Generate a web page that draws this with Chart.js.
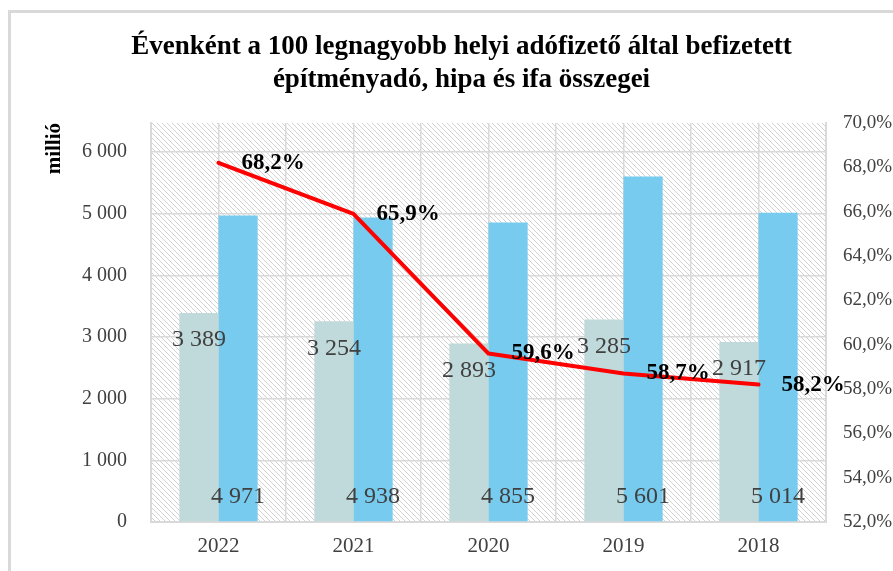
<!DOCTYPE html>
<html>
<head>
<meta charset="utf-8">
<script src="https://cdn.jsdelivr.net/npm/chart.js@4"></script>
<style>
  html, body { margin: 0; padding: 0; background: #fff; }
  .frame { position: absolute; left: 8px; top: 10px; width: 1000px; height: 1000px; border: 3px solid #d9d9d9; }
  .wrap { position: absolute; left: 0; top: 0; width: 893px; height: 571px; }
</style>
</head>
<body>
<div class="frame"></div>
<div class="wrap"><canvas id="chart" width="893" height="571"></canvas></div>
<script>
// adatok
const YEARS = ['2022', '2021', '2020', '2019', '2018'];
const EPITMENYADO = [3389, 3254, 2893, 3285, 2917];
const OSSZES = [4971, 4938, 4855, 5601, 5014];
const ARANY = [68.2, 65.9, 59.6, 58.7, 58.2];
const LEFT_TICKS = [0, 1000, 2000, 3000, 4000, 5000, 6000];

const SERIF = '"Liberation Serif", "DejaVu Serif", serif';
const TICK_COLOR = '#404040';
const GRID_COLOR = '#d9d9d9';

const fmtThousand = v => String(v).replace(/\B(?=(\d{3})+(?!\d))/g, ' ');
const fmtPct = v => v.toFixed(1).replace('.', ',') + '%';

// sraffozott háttér (átlós vonalak a rajzterületen)
const hatchBg = {
  id: 'hatchBg',
  beforeDraw(chart) {
    const { ctx, chartArea: a } = chart;
    const w = a.right - a.left, h = a.bottom - a.top;
    ctx.save();
    ctx.beginPath();
    ctx.rect(a.left, a.top, w, h);
    ctx.clip();
    ctx.fillStyle = '#fff';
    ctx.fillRect(a.left, a.top, w, h);
    ctx.strokeStyle = '#d2d2d2';
    ctx.lineWidth = 1;
    ctx.beginPath();
    for (let k = -h; k < w; k += 5) {
      ctx.moveTo(a.left + k, a.top);
      ctx.lineTo(a.left + k + h, a.bottom);
    }
    ctx.stroke();
    ctx.restore();
  }
};

const valueLabels = {
  id: 'valueLabels',
  afterDatasetsDraw(chart) {
    const { ctx } = chart;
    ctx.save();
    ctx.textBaseline = 'middle';
    // oszlopok
    ctx.font = '24px ' + SERIF;
    ctx.fillStyle = TICK_COLOR;
    ctx.textAlign = 'center';
    chart.getDatasetMeta(1).data.forEach((bar, i) => {
      ctx.fillText(fmtThousand(EPITMENYADO[i]), bar.x, bar.y + 27);
    });
    chart.getDatasetMeta(2).data.forEach((bar, i) => {
      ctx.fillText(fmtThousand(OSSZES[i]), bar.x, bar.base - 25);
    });
    // vonal
    ctx.font = 'bold 23px ' + SERIF;
    ctx.fillStyle = '#000';
    ctx.textAlign = 'left';
    chart.getDatasetMeta(0).data.forEach((pt, i) => {
      ctx.fillText(fmtPct(ARANY[i]), pt.x + 23, pt.y);
    });
    ctx.restore();
  }
};

new Chart(document.getElementById('chart'), {
  data: {
    labels: YEARS,
    datasets: [
      {
        type: 'line', label: 'arány', data: ARANY, yAxisID: 'y1', order: 0,
        borderColor: '#ff0000', borderWidth: 4, pointRadius: 0, tension: 0,
        borderCapStyle: 'round', borderJoinStyle: 'round'
      },
      {
        type: 'bar', label: 'építményadó', data: EPITMENYADO, yAxisID: 'y', order: 1,
        backgroundColor: '#c0d9da', barPercentage: 1, categoryPercentage: 0.58
      },
      {
        type: 'bar', label: 'összes', data: OSSZES, yAxisID: 'y', order: 1,
        backgroundColor: '#76cbee', barPercentage: 1, categoryPercentage: 0.58
      }
    ]
  },
  options: {
    responsive: false,
    animation: false,
    layout: { padding: { left: 30, right: 0, top: 0, bottom: 0 } },
    plugins: {
      legend: { display: false },
      tooltip: { enabled: false },
      title: {
        display: true,
        text: ['Évenként a 100 legnagyobb helyi adófizető által befizetett', 'építményadó, hipa és ifa összegei'],
        font: { family: SERIF, size: 27, weight: 'bold', lineHeight: 33 / 27 },
        color: '#000',
        padding: { top: 30.5, bottom: 26.5 }
      }
    },
    scales: {
      x: {
        type: 'category',
        grid: { display: false, drawTicks: false },
        border: { color: GRID_COLOR, width: 2 },
        ticks: { color: TICK_COLOR, font: { family: SERIF, size: 21 }, padding: 12 },
        afterFit: s => { s.height = 49; }
      },
      xg: {
        type: 'linear', position: 'bottom', min: -0.5, max: 4.5,
        ticks: { display: false, stepSize: 0.5 },
        grid: { color: GRID_COLOR, lineWidth: 1.5, drawTicks: false },
        border: { display: false },
        afterFit: s => { s.height = 0; }
      },
      y: {
        position: 'left', min: 0, max: 6470,
        afterBuildTicks: s => { s.ticks = LEFT_TICKS.map(v => ({ value: v })); },
        ticks: { color: TICK_COLOR, font: { family: SERIF, size: 20 }, padding: 24, callback: v => fmtThousand(v) },
        grid: { color: GRID_COLOR, lineWidth: 1.5, drawTicks: false },
        border: { color: GRID_COLOR, width: 2 },
        title: { display: true, text: 'millió', align: 'end', color: '#000', font: { family: SERIF, size: 21, weight: 'bold' }, padding: { top: 12, bottom: 0 } },
        afterFit: s => { s.width = 121; }
      },
      y1: {
        position: 'right', min: 52, max: 70,
        ticks: { stepSize: 2, color: TICK_COLOR, font: { family: SERIF, size: 19 }, padding: 17, callback: v => fmtPct(v) },
        grid: { display: false, drawTicks: false },
        border: { color: GRID_COLOR, width: 2 },
        afterFit: s => { s.width = 67; }
      }
    }
  },
  plugins: [hatchBg, valueLabels]
});
</script>
</body>
</html>
